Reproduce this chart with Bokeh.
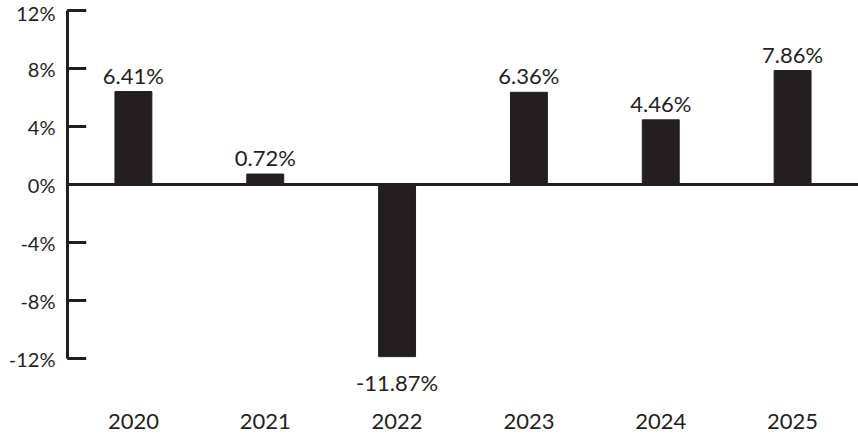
from bokeh.plotting import figure
from bokeh.models import (ColumnDataSource, FixedTicker, PrintfTickFormatter, Span,
                          LabelSet, Range1d)
from bokeh.core.properties import value
from bokeh.embed import file_html
from bokeh.resources import INLINE

years = ["2020", "2021", "2022", "2023", "2024", "2025"]
returns = [6.41, 0.72, -11.87, 6.36, 4.46, 7.86]
y_ticks = [-12, -8, -4, 0, 4, 8, 12]

INK = "#231f20"
FONT = "Lato"

# vertical extent of the frame; the axis itself spans y_ticks[0]..y_ticks[-1]
Y_MIN, Y_MAX = -17.379, 12.69

# slot centres for the categories (one unit per year)
xs = [i + 0.5 for i in range(len(years))]
labels = [f"{v:.2f}%" for v in returns]
pos = [v >= 0 for v in returns]
src_pos = ColumnDataSource(dict(x=[x for x, p in zip(xs, pos) if p],
                                y=[v for v, p in zip(returns, pos) if p],
                                t=[l for l, p in zip(labels, pos) if p]))
src_neg = ColumnDataSource(dict(x=[x for x, p in zip(xs, pos) if not p],
                                y=[v for v, p in zip(returns, pos) if not p],
                                t=[l for l, p in zip(labels, pos) if not p]))
src = ColumnDataSource(dict(x=xs, top=returns))
cat_src = ColumnDataSource(dict(x=xs, y=[y_ticks[0]] * len(years), t=years))
tick_src = ColumnDataSource(dict(y=y_ticks))

p = figure(x_range=Range1d(0, len(years)), y_range=(Y_MIN, Y_MAX), width=858, height=436,
           output_backend="svg", toolbar_location=None,
           min_border_left=67, min_border_right=0, min_border_top=0, min_border_bottom=0)
p.outline_line_color = None
p.xgrid.grid_line_color = None
p.ygrid.grid_line_color = None
p.background_fill_color = "white"

p.vbar(x="x", top="top", bottom=0, width=0.28, source=src, color=INK)

p.add_layout(Span(location=0, dimension="width", line_color=INK, line_width=3))

# inward tick marks on the y axis (dash markers next to the axis line)
p.scatter(x=0.07, y="y", source=tick_src, marker="dash", size=19,
          line_color=INK, line_width=3, level="overlay")

p.add_layout(LabelSet(x="x", y="y", text="t", source=src_pos, text_align="center",
                      text_baseline="alphabetic", y_offset=8, text_font=value(FONT),
                      text_font_size="22px", text_color=INK))
p.add_layout(LabelSet(x="x", y="y", text="t", source=src_neg, text_align="center",
                      text_baseline="alphabetic", y_offset=-34, text_font=value(FONT),
                      text_font_size="22px", text_color=INK))
# category labels under the plot
p.add_layout(LabelSet(x="x", y="y", text="t", source=cat_src, text_align="center",
                      text_baseline="alphabetic", y_offset=-70, text_font=value(FONT),
                      text_font_size="22px", text_color=INK))

ya = p.yaxis[0]
ya.ticker = FixedTicker(ticks=y_ticks)
ya.formatter = PrintfTickFormatter(format="%d%%")
ya.bounds = (y_ticks[0], y_ticks[-1])
ya.axis_line_color = INK
ya.axis_line_width = 3
ya.major_tick_line_color = None
ya.major_tick_in = 0
ya.major_tick_out = 0
ya.minor_tick_line_color = None
ya.major_label_standoff = 12
ya.major_label_text_font = FONT
ya.major_label_text_font_size = "20px"
ya.major_label_text_color = INK

p.xaxis.visible = False

open("out.html", "w").write(file_html(p, INLINE))
